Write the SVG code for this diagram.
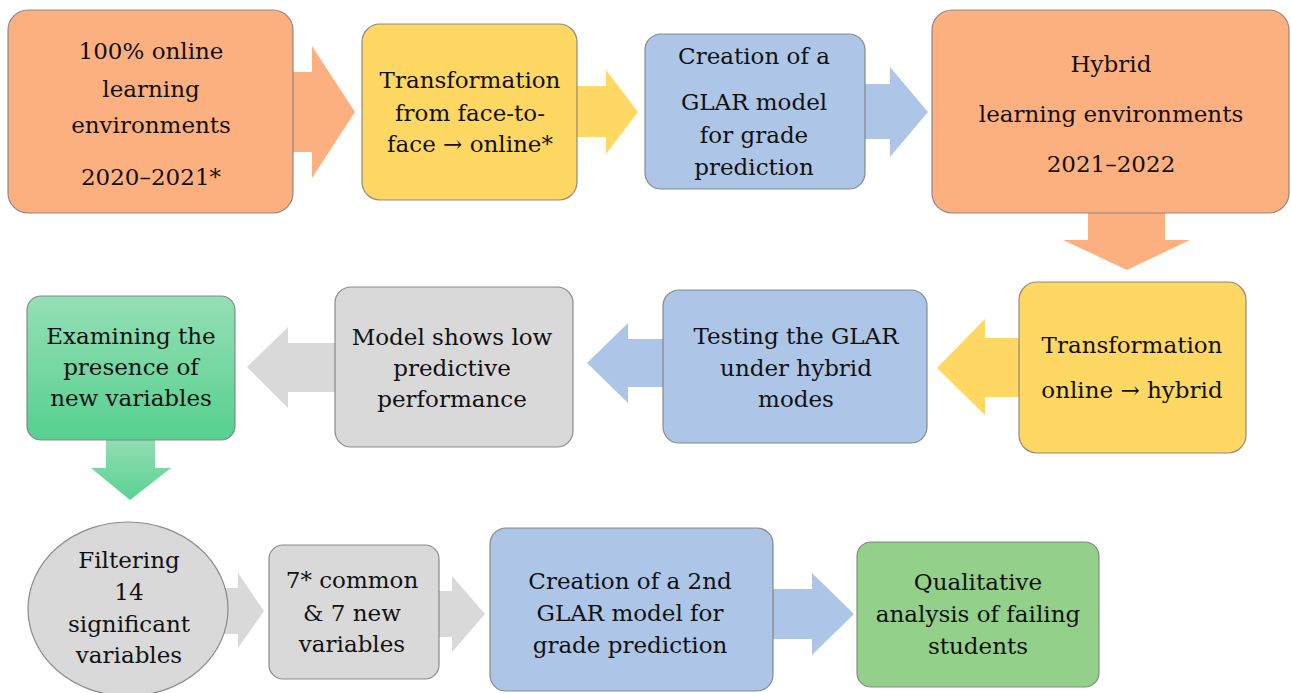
<svg xmlns="http://www.w3.org/2000/svg" width="1291" height="693" viewBox="0 0 1291 693">
<defs>
<linearGradient id="gGreen" x1="0" y1="0" x2="0" y2="1">
<stop offset="0" stop-color="#95DFB6"/>
<stop offset="1" stop-color="#56D08E"/>
</linearGradient>
<linearGradient id="gGreenArrow" x1="0" y1="0" x2="0" y2="1">
<stop offset="0" stop-color="#93DEB4"/>
<stop offset="1" stop-color="#5BD192"/>
</linearGradient>
<style>
.orange{fill:#FDB07F}
.yellow{fill:#FFD763}
.blue{fill:#ADC6E8}
.gray{fill:#D9D9D9}
.green{fill:url(#gGreen)}
.lgreen{fill:#93D08A}
.box{stroke:#7a7a7a;stroke-width:1.2;stroke-opacity:0.85}
text{font-family:"DejaVu Serif","Liberation Serif",serif;font-size:23px;fill:#111;text-anchor:middle}
</style>
</defs>
<rect width="1291" height="693" fill="#fff"/>
<g id="connectors">
<polygon class="orange" points="290,72 312,72 312,46 355,112 312,178 312,152 290,152"/>
<polygon class="yellow" points="574,86 606,86 606,70 638,112 606,154 606,137 574,137"/>
<polygon class="blue" points="862,84 890,84 890,67 928,112 890,157 890,139 862,139"/>
<polygon class="orange" points="1088,210 1165,210 1165,240 1190,240 1127,270 1063,240 1088,240"/>
<polygon class="yellow" points="1022,338 985,338 985,319 937,368 985,415 985,397 1022,397"/>
<polygon class="blue" points="666,339 628,339 628,323 587,363 628,403 628,387 666,387"/>
<polygon class="gray" points="338,343 288,343 288,327 247,367 288,408 288,392 338,392"/>
<polygon fill="url(#gGreenArrow)" points="106,438 155,438 155,468 171,468 130,500 91,468 106,468"/>
<polygon class="gray" points="210,588 238,588 238,573 264,611 238,648 238,634 210,634"/>
<polygon class="gray" points="436,591 452,591 452,576 485,614 452,652 452,637 436,637"/>
<polygon class="blue" points="770,589 812,589 812,573 854,614 812,655 812,639 770,639"/>
</g>
<g id="n1">
<rect class="box orange" x="8" y="10" width="285" height="203" rx="20"/>
<text x="151" y="59">100% online</text>
<text x="151" y="97">learning</text>
<text x="151" y="133">environments</text>
<text x="151" y="185">2020–2021*</text>
</g>
<g id="n2">
<rect class="box yellow" x="362" y="24" width="215" height="176" rx="18"/>
<text x="470" y="88">Transformation</text>
<text x="470" y="121">from face-to-</text>
<text x="470" y="152">face → online*</text>
</g>
<g id="n3">
<rect class="box blue" x="645" y="34" width="220" height="155" rx="16"/>
<text x="754" y="64">Creation of a</text>
<text x="754" y="110">GLAR model</text>
<text x="754" y="143">for grade</text>
<text x="754" y="175">prediction</text>
</g>
<g id="n4">
<rect class="box orange" x="932" y="10" width="357" height="203" rx="20"/>
<text x="1111" y="72">Hybrid</text>
<text x="1111" y="122">learning environments</text>
<text x="1111" y="172">2021–2022</text>
</g>
<g id="n5">
<rect class="box yellow" x="1019" y="282" width="227" height="171" rx="18"/>
<text x="1132" y="353">Transformation</text>
<text x="1132" y="398">online → hybrid</text>
</g>
<g id="n6">
<rect class="box blue" x="663" y="290" width="264" height="153" rx="16"/>
<text x="796" y="344">Testing the GLAR</text>
<text x="796" y="376">under hybrid</text>
<text x="796" y="407">modes</text>
</g>
<g id="n7">
<rect class="box gray" x="335" y="287" width="238" height="160" rx="16"/>
<text x="452" y="345">Model shows low</text>
<text x="452" y="376">predictive</text>
<text x="452" y="407">performance</text>
</g>
<g id="n8">
<rect class="box green" x="27" y="296" width="208" height="144" rx="14"/>
<text x="131" y="344">Examining the</text>
<text x="131" y="375">presence of</text>
<text x="131" y="406">new variables</text>
</g>
<g id="n9">
<ellipse class="box gray" cx="128" cy="609" rx="100" ry="87"/>
<text x="129" y="568">Filtering</text>
<text x="129" y="600">14</text>
<text x="129" y="632">significant</text>
<text x="129" y="663">variables</text>
</g>
<g id="n10">
<rect class="box gray" x="269" y="545" width="170" height="134" rx="14"/>
<text x="352" y="588">7* common</text>
<text x="352" y="621">&amp; 7 new</text>
<text x="352" y="652">variables</text>
</g>
<g id="n11">
<rect class="box blue" x="490" y="528" width="283" height="163" rx="16"/>
<text x="630" y="589">Creation of a 2nd</text>
<text x="630" y="621">GLAR model for</text>
<text x="630" y="653">grade prediction</text>
</g>
<g id="n12">
<rect class="box lgreen" x="857" y="542" width="242" height="145" rx="14"/>
<text x="978" y="590">Qualitative</text>
<text x="978" y="622">analysis of failing</text>
<text x="978" y="654">students</text>
</g>
</svg>
